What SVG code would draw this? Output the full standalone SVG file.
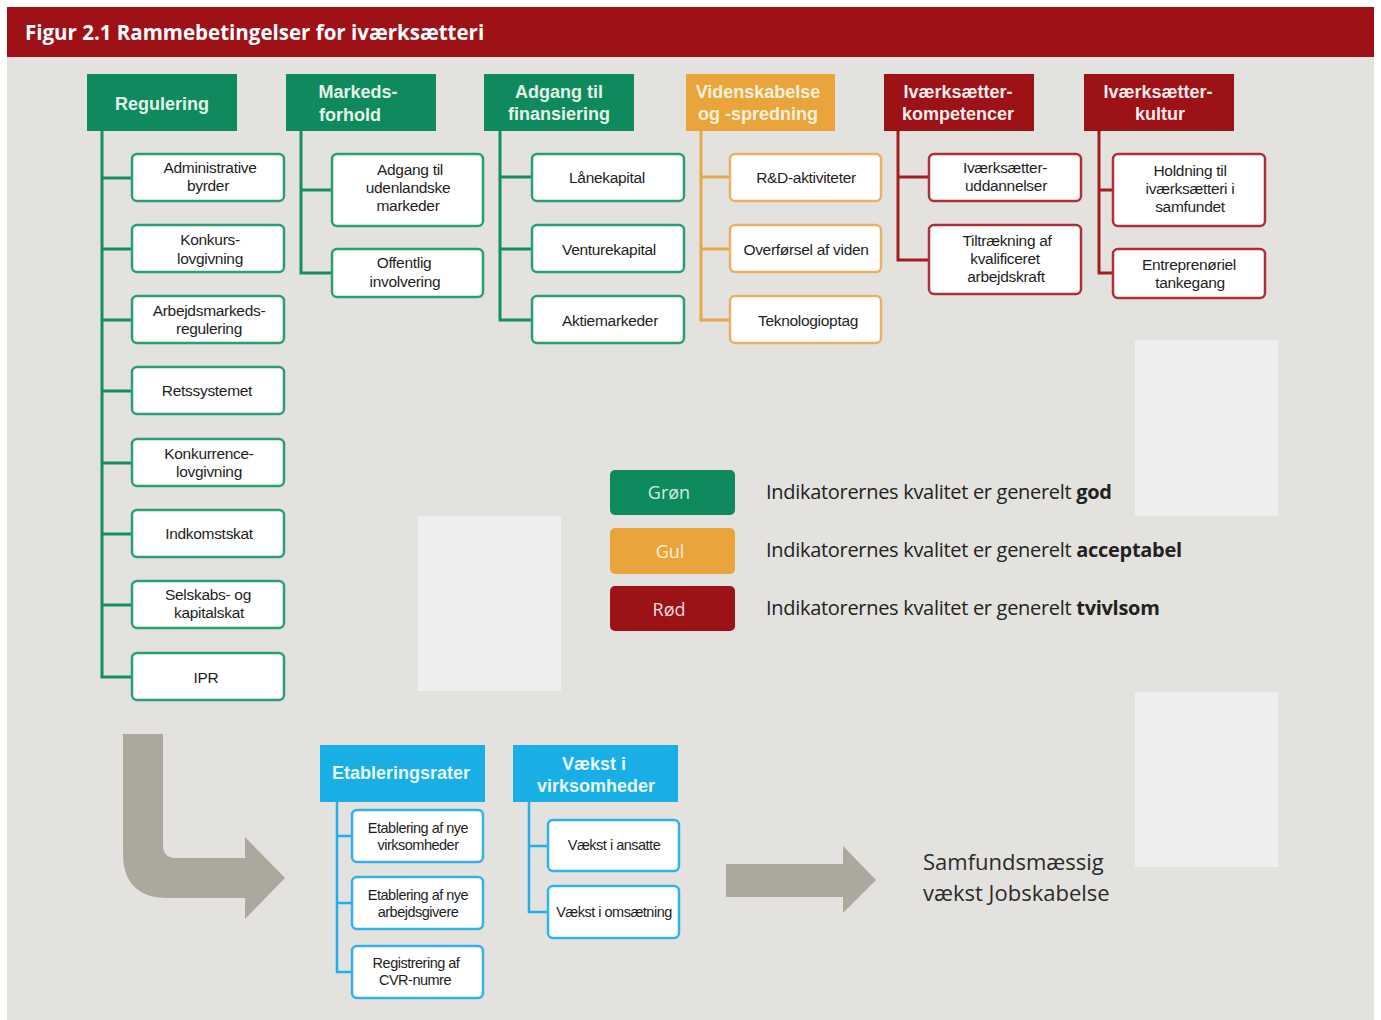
<svg xmlns="http://www.w3.org/2000/svg" width="1381" height="1020" viewBox="0 0 1381 1020">
<style>
.hd{font-family:"Liberation Sans",Arial,sans-serif;font-weight:bold;font-size:18px;text-anchor:middle;}
.ch{font-family:"Liberation Sans",Arial,sans-serif;font-size:15.5px;fill:#1e1e1e;text-anchor:middle;letter-spacing:-0.3px;}
.chs{font-family:"Liberation Sans",sans-serif;font-size:14.5px;fill:#1e1e1e;text-anchor:middle;letter-spacing:-0.5px;}
.g{fill:#0f8a5f;} .y{fill:#e9a53b;} .r{fill:#9c1217;} .c{fill:#19afe6;}
.bg{fill:#fff;stroke:#2a9e74;stroke-width:2.5;}
.by{fill:#fff;stroke:#e8b266;stroke-width:2.5;}
.br{fill:#fff;stroke:#ad3038;stroke-width:2.5;}
.bc{fill:#fff;stroke:#2fb3e8;stroke-width:2.5;}
.lg{stroke:#158e62;stroke-width:3;fill:none;}
.ly{stroke:#e6a947;stroke-width:3;fill:none;}
.lr{stroke:#a21c22;stroke-width:3;fill:none;}
.lc{stroke:#22aee6;stroke-width:2.5;fill:none;}
.leg{font-family:"Open Sans","Liberation Sans",sans-serif;font-size:20px;fill:#222;letter-spacing:-0.3px;}
</style>
<rect x="0" y="0" width="1381" height="1020" fill="#fff"/>
<rect x="7" y="57" width="1367" height="963" fill="#e4e2df"/>
<rect x="7" y="7" width="1367" height="50" fill="#9e1117"/>
<text x="25" y="40" font-family="Open Sans, Liberation Sans, sans-serif" font-weight="bold" font-size="20.5" fill="#fff">Figur 2.1 Rammebetingelser for iværksætteri</text>

<rect x="1135" y="340" width="143" height="176" fill="#eeeeee"/>
<rect x="418" y="516" width="143" height="175" fill="#eeeeee"/>
<rect x="1135" y="692" width="143" height="175" fill="#eeeeee"/>

<g id="connectors">
<path class="lg" d="M102 131V677H132M102 178H132M102 249H132M102 320H132M102 391H132M102 463H132M102 534H132M102 605H132"/>
<path class="lg" d="M301 131V273H332M301 190H332"/>
<path class="lg" d="M500 131V320H532M500 177H532M500 249H532"/>
<path class="ly" d="M701 131V320H730M701 177H730M701 249H730"/>
<path class="lr" d="M898 131V260H929M898 177H929"/>
<path class="lr" d="M1099 131V273H1113M1099 190H1113"/>
<path class="lc" d="M337 802V972H352M337 836H352M337 903H352"/>
<path class="lc" d="M529 802V912H548M529 846H548"/>
</g>

<g id="regulering">
<rect class="g" x="87" y="74" width="150" height="57"/>
<text class="hd" x="162" y="110" fill="#e3f3ea">Regulering</text>
</g>
<g id="markedsforhold">
<rect class="g" x="286" y="74" width="150" height="57"/>
<text class="hd" x="358" y="98" fill="#e3f3ea">Markeds-</text>
<text class="hd" x="350" y="121" fill="#e3f3ea">forhold</text>
</g>
<g id="finansiering">
<rect class="g" x="484" y="74" width="150" height="57"/>
<text class="hd" x="559" y="98" fill="#e3f3ea">Adgang til</text>
<text class="hd" x="559" y="120" fill="#e3f3ea">finansiering</text>
</g>
<g id="videnskabelse">
<rect class="y" x="686" y="74" width="149" height="57"/>
<text class="hd" x="758" y="98" fill="#fdf1dc">Videnskabelse</text>
<text class="hd" x="758" y="120" fill="#fdf1dc">og -spredning</text>
</g>
<g id="kompetencer">
<rect class="r" x="884" y="74" width="150" height="57"/>
<text class="hd" x="958" y="98" fill="#fbecec">Iværksætter-</text>
<text class="hd" x="958" y="120" fill="#fbecec">kompetencer</text>
</g>
<g id="kultur">
<rect class="r" x="1084" y="74" width="150" height="57"/>
<text class="hd" x="1158" y="98" fill="#fbecec">Iværksætter-</text>
<text class="hd" x="1160" y="120" fill="#fbecec">kultur</text>
</g>

<g id="administrative-byrder"><rect class="bg" x="132" y="154" width="152" height="47" rx="5"/><text class="ch" x="210" y="173">Administrative</text><text class="ch" x="208" y="191">byrder</text></g>
<g id="konkurslovgivning"><rect class="bg" x="132" y="225" width="152" height="47" rx="5"/><text class="ch" x="210" y="245">Konkurs-</text><text class="ch" x="210" y="264">lovgivning</text></g>
<g id="arbejdsmarkedsregulering"><rect class="bg" x="132" y="296" width="152" height="47" rx="5"/><text class="ch" x="209" y="316">Arbejdsmarkeds-</text><text class="ch" x="209" y="334">regulering</text></g>
<g id="retssystemet"><rect class="bg" x="132" y="367" width="152" height="47" rx="5"/><text class="ch" x="207" y="396">Retssystemet</text></g>
<g id="konkurrencelovgivning"><rect class="bg" x="132" y="439" width="152" height="47" rx="5"/><text class="ch" x="209" y="459">Konkurrence-</text><text class="ch" x="209" y="477">lovgivning</text></g>
<g id="indkomstskat"><rect class="bg" x="132" y="510" width="152" height="47" rx="5"/><text class="ch" x="209" y="539">Indkomstskat</text></g>
<g id="selskabsskat"><rect class="bg" x="132" y="581" width="152" height="47" rx="5"/><text class="ch" x="208" y="600">Selskabs- og</text><text class="ch" x="209" y="618">kapitalskat</text></g>
<g id="ipr"><rect class="bg" x="132" y="653" width="152" height="47" rx="5"/><text class="ch" x="206" y="683">IPR</text></g>

<g id="udenlandske-markeder"><rect class="bg" x="332" y="154" width="151" height="72" rx="5"/><text class="ch" x="410" y="175">Adgang til</text><text class="ch" x="408" y="193">udenlandske</text><text class="ch" x="408" y="211">markeder</text></g>
<g id="offentlig-involvering"><rect class="bg" x="332" y="249" width="151" height="48" rx="5"/><text class="ch" x="404" y="268">Offentlig</text><text class="ch" x="405" y="287">involvering</text></g>

<g id="laanekapital"><rect class="bg" x="532" y="154" width="152" height="47" rx="5"/><text class="ch" x="607" y="183">Lånekapital</text></g>
<g id="venturekapital"><rect class="bg" x="532" y="225" width="152" height="47" rx="5"/><text class="ch" x="609" y="255">Venturekapital</text></g>
<g id="aktiemarkeder"><rect class="bg" x="532" y="296" width="152" height="47" rx="5"/><text class="ch" x="610" y="326">Aktiemarkeder</text></g>

<g id="rd-aktiviteter"><rect class="by" x="730" y="154" width="151" height="47" rx="5"/><text class="ch" x="806" y="183">R&amp;D-aktiviteter</text></g>
<g id="overfoersel"><rect class="by" x="730" y="225" width="151" height="47" rx="5"/><text class="ch" x="806" y="255">Overførsel af viden</text></g>
<g id="teknologioptag"><rect class="by" x="730" y="296" width="151" height="47" rx="5"/><text class="ch" x="808" y="326">Teknologioptag</text></g>

<g id="uddannelser"><rect class="br" x="929" y="154" width="152" height="47" rx="5"/><text class="ch" x="1005" y="173">Iværksætter-</text><text class="ch" x="1006" y="191">uddannelser</text></g>
<g id="tiltraekning"><rect class="br" x="929" y="225" width="152" height="69" rx="5"/><text class="ch" x="1007" y="246">Tiltrækning af</text><text class="ch" x="1005" y="264">kvalificeret</text><text class="ch" x="1006" y="282">arbejdskraft</text></g>

<g id="holdning"><rect class="br" x="1113" y="154" width="152" height="72" rx="5"/><text class="ch" x="1190" y="176">Holdning til</text><text class="ch" x="1190" y="194">iværksætteri i</text><text class="ch" x="1190" y="212">samfundet</text></g>
<g id="entreprenoeriel"><rect class="br" x="1113" y="249" width="152" height="49" rx="5"/><text class="ch" x="1189" y="270">Entreprenøriel</text><text class="ch" x="1190" y="288">tankegang</text></g>

<g id="legend">
<rect class="g" x="610" y="470" width="125" height="45" rx="5"/>
<text x="669" y="499" font-family="Open Sans, Liberation Sans, sans-serif" font-size="18" text-anchor="middle" fill="#cfeadc">Grøn</text>
<rect class="y" x="610" y="528" width="125" height="46" rx="5"/>
<text x="670" y="558" font-family="Open Sans, Liberation Sans, sans-serif" font-size="18" text-anchor="middle" fill="#fdf1dc">Gul</text>
<rect class="r" x="610" y="586" width="125" height="45" rx="5"/>
<text x="669" y="616" font-family="Open Sans, Liberation Sans, sans-serif" font-size="18" text-anchor="middle" fill="#f6dede">Rød</text>
<text class="leg" x="766" y="499">Indikatorernes kvalitet er generelt <tspan font-weight="bold">god</tspan></text>
<text class="leg" x="766" y="557">Indikatorernes kvalitet er generelt <tspan font-weight="bold">acceptabel</tspan></text>
<text class="leg" x="766" y="615">Indikatorernes kvalitet er generelt <tspan font-weight="bold">tvivlsom</tspan></text>
</g>

<g id="bent-arrow">
<path d="M123 734H163V845Q163 858 176 858H245V837L285 878L245 919V898H168Q123 898 123 853Z" fill="#aba89d"/>
</g>

<g id="etableringsrater"><rect class="c" x="320" y="745" width="165" height="57"/><text class="hd" x="401" y="779" fill="#e8f7fd">Etableringsrater</text></g>
<g id="vaekst-virksomheder"><rect class="c" x="513" y="745" width="165" height="57"/><text class="hd" x="594" y="770" fill="#e8f7fd">Vækst i</text><text class="hd" x="596" y="792" fill="#e8f7fd">virksomheder</text></g>

<g id="etablering-virksomheder"><rect class="bc" x="352" y="810" width="131" height="52" rx="5"/><text class="chs" x="418" y="833">Etablering af nye</text><text class="chs" x="418" y="850">virksomheder</text></g>
<g id="etablering-arbejdsgivere"><rect class="bc" x="352" y="877" width="131" height="52" rx="5"/><text class="chs" x="418" y="900">Etablering af nye</text><text class="chs" x="418" y="917">arbejdsgivere</text></g>
<g id="registrering-cvr"><rect class="bc" x="352" y="946" width="131" height="52" rx="5"/><text class="chs" x="416" y="968">Registrering af</text><text class="chs" x="415" y="985">CVR-numre</text></g>
<g id="vaekst-ansatte"><rect class="bc" x="548" y="820" width="131" height="51" rx="5"/><text class="chs" x="614" y="850">Vækst i ansatte</text></g>
<g id="vaekst-omsaetning"><rect class="bc" x="548" y="886" width="131" height="52" rx="5"/><text class="chs" x="614" y="917">Vækst i omsætning</text></g>

<g id="right-arrow">
<path d="M726 864H843V846L876 880L843 913V897H726Z" fill="#aba89d"/>
</g>
<g id="samfund">
<text x="923" y="870" font-family="Open Sans, Liberation Sans, sans-serif" font-size="22" fill="#2b2b2b">Samfundsmæssig</text>
<text x="923" y="901" font-family="Open Sans, Liberation Sans, sans-serif" font-size="22" fill="#2b2b2b">vækst Jobskabelse</text>
</g>
</svg>
